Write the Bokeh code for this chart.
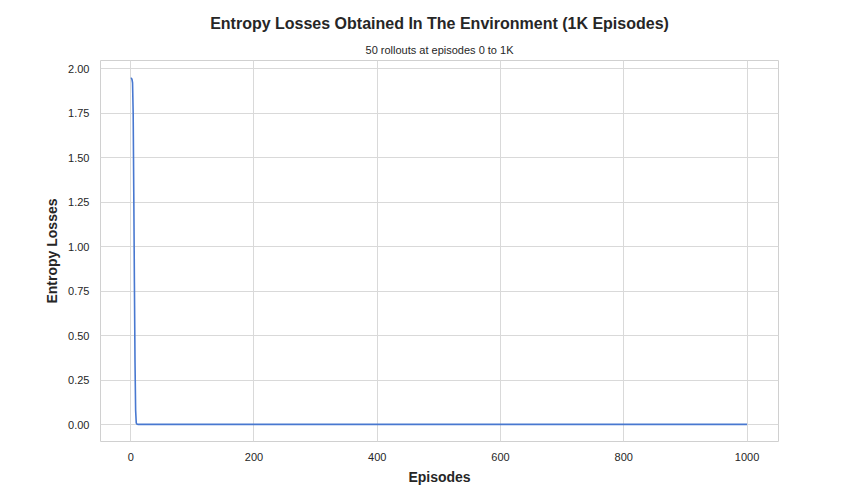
from bokeh.plotting import figure
from bokeh.embed import file_html
from bokeh.resources import INLINE
from bokeh.models import Range1d, FixedTicker, Title, NumeralTickFormatter

episodes = [0, 1, 2, 3, 4, 5, 6, 7, 8, 9, 10, 12, 1000]
entropy = [1.945, 1.945, 1.94, 1.92, 1.75, 1.30, 0.80, 0.35, 0.08, 0.01, 0.003, 0.001, 0.001]

F = "Liberation Sans"
p = figure(width=848, height=488, output_backend="svg", toolbar_location=None,
           x_range=Range1d(-49, 1051), y_range=Range1d(-0.095, 2.045),
           min_border_left=100, min_border_right=70, min_border_top=60, min_border_bottom=47)
p.line(episodes, entropy, line_color="#4878d0", line_width=1.6)

p.add_layout(Title(text="50 rollouts at episodes 0 to 1K", text_font_size="11px",
                   text_font=F, text_font_style="normal", align="center",
                   text_color="#262626"), "above")
p.add_layout(Title(text="Entropy Losses Obtained In The Environment (1K Episodes)",
                   text_font_size="16px", text_font=F, text_font_style="bold",
                   align="center", text_color="#262626"), "above")

p.xaxis.ticker = FixedTicker(ticks=[0, 200, 400, 600, 800, 1000])
p.yaxis.ticker = FixedTicker(ticks=[0, 0.25, 0.5, 0.75, 1.0, 1.25, 1.5, 1.75, 2.0])
p.yaxis.formatter = NumeralTickFormatter(format="0.00")
p.xaxis.axis_label = "Episodes"
p.yaxis.axis_label = "Entropy Losses"
for ax in (p.xaxis, p.yaxis):
    ax.axis_label_text_font = F
    ax.axis_label_text_font_style = "bold"
    ax.axis_label_text_font_size = "14px"
    ax.axis_label_text_color = "#262626"
    ax.major_label_text_font = F
    ax.major_label_text_font_size = "11px"
    ax.major_label_text_color = "#262626"
    ax.axis_line_color = None
    ax.major_tick_line_color = None
    ax.minor_tick_line_color = None
p.grid.grid_line_color = "#d9d9d9"
p.outline_line_color = "#d0d0d0"
p.background_fill_color = "white"

open("out.html", "w").write(file_html(p, INLINE))
